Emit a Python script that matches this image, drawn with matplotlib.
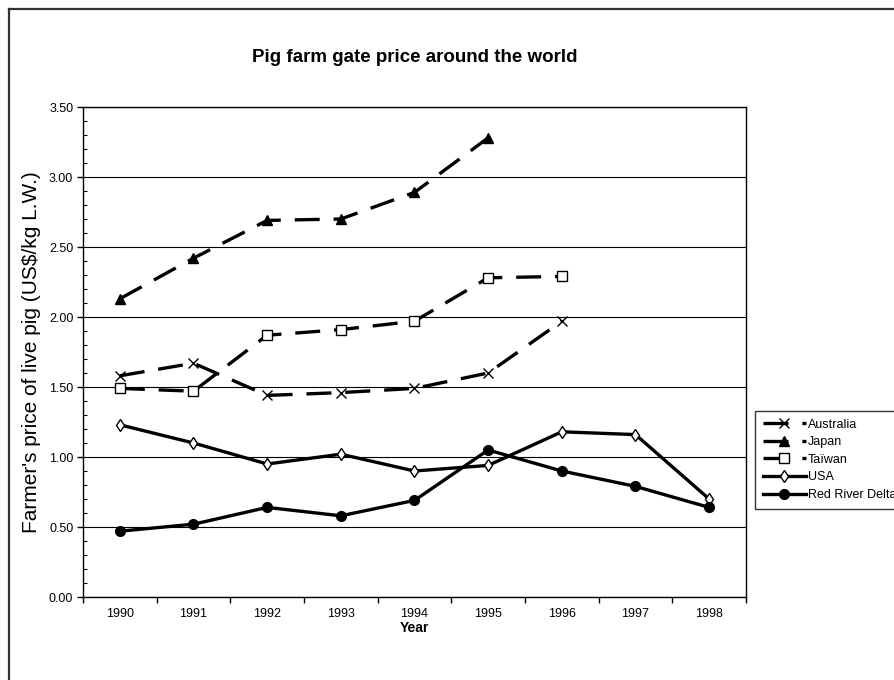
"""
Pig farm gate price, 1990-1998, for a few producing regions
"""

import numpy as np
import matplotlib

matplotlib.use("Agg")
import matplotlib.pyplot as plt
from matplotlib.lines import Line2D
from matplotlib.ticker import MultipleLocator, FixedLocator, NullFormatter

plt.rcParams["font.family"] = ["Liberation Sans", "DejaVu Sans"]
plt.rcParams["lines.scale_dashes"] = False

years = ["1990", "1991", "1992", "1993", "1994", "1995", "1996", "1997", "1998"]

australia = [1.58, 1.67, 1.44, 1.46, 1.49, 1.60, 1.97]
japan = [2.13, 2.42, 2.69, 2.70, 2.89, 3.28]
taiwan = [1.49, 1.47, 1.87, 1.91, 1.97, 2.28, 2.29]
usa = [1.23, 1.10, 0.95, 1.02, 0.90, 0.94, 1.18, 1.16, 0.70]
red_river_delta = [0.47, 0.52, 0.64, 0.58, 0.69, 1.05, 0.90, 0.79, 0.64]

series_names = ["Australia", "Japan", "Taïwan", "USA", "Red River Delta"]

W, H = 895, 680
fig = plt.figure(figsize=(W / 100, H / 100), dpi=100)

# plot area in pixels: left 83, right 746, top 107, bottom 597
ax = fig.add_axes([83 / W, (H - 597) / H, (746 - 83) / W, (597 - 107) / H])

dash = (18, 10)
lw = 2.4

ax.plot(np.arange(len(australia)), australia, color="black", lw=lw, dashes=dash,
        marker="x", ms=7, mew=1.0, label=series_names[0])
ax.plot(np.arange(len(japan)), japan, color="black", lw=lw, dashes=dash,
        marker="^", ms=7, mfc="black", mec="black", label=series_names[1])
ax.plot(np.arange(len(taiwan)), taiwan, color="black", lw=lw, dashes=dash,
        marker="s", ms=7, mfc="white", mec="black", mew=1.0, label=series_names[2])
ax.plot(np.arange(len(usa)), usa, color="black", lw=lw,
        marker="d", ms=6.5, mfc="white", mec="black", mew=1.0, label=series_names[3])
ax.plot(np.arange(len(red_river_delta)), red_river_delta, color="black", lw=lw,
        marker="o", ms=7, mfc="black", mec="black", label=series_names[4])

ax.set_xlim(-0.5, len(years) - 0.5)
ax.set_ylim(0, 3.5)

# y axis: labelled majors every 0.5, small inside minors every 0.1
ax.yaxis.set_minor_locator(MultipleLocator(0.1))
ax.set_yticks(np.arange(0, 3.51, 0.5))
ax.set_yticklabels(["{:.2f}".format(v) for v in np.arange(0, 3.51, 0.5)])
ax.tick_params(axis="y", which="major", direction="out", length=4, width=1,
               labelsize=9, pad=3)
ax.tick_params(axis="y", which="minor", direction="in", length=3, width=0.8)

# x axis: ticks between categories, labels centred on categories
ax.xaxis.set_major_locator(FixedLocator(np.arange(-0.5, len(years), 1.0)))
ax.xaxis.set_major_formatter(NullFormatter())
ax.xaxis.set_minor_locator(FixedLocator(np.arange(len(years))))
ax.set_xticklabels(years, minor=True)
ax.tick_params(axis="x", which="major", direction="out", length=4, width=1)
ax.tick_params(axis="x", which="minor", length=0, labelsize=9, pad=8)

ax.grid(axis="y", which="major", color="black", lw=0.8)
ax.set_axisbelow(True)
for s in ax.spines.values():
    s.set_color("black")
    s.set_linewidth(1.0)

ax.set_xlabel("Year", fontsize=10, fontweight="bold", labelpad=1)
ax.set_ylabel("Farmer's price of live pig (US$/kg L.W.)", fontsize=15,
              va="center")
ax.yaxis.set_label_coords((32 - 83) / (746 - 83), 0.5)

fig.text(414.5 / W, 1 - 57 / H, "Pig farm gate price around the world",
         ha="center", va="center", fontsize=13.5, fontweight="bold")

leg = fig.legend(loc="upper left", bbox_to_anchor=(755 / W, 1 - 411 / H),
                 fontsize=9, frameon=True, fancybox=False, borderaxespad=0,
                 handlelength=3.5, handletextpad=0.15, labelspacing=0.45,
                 borderpad=0.6)
leg.get_frame().set_edgecolor("black")
leg.get_frame().set_linewidth(1.0)

# outer chart border (top and left edges only)
fig.add_artist(Line2D([9 / W, 9 / W], [0, 1 - 9 / H], color="#333333", lw=1.6,
                      transform=fig.transFigure))
fig.add_artist(Line2D([9 / W, 1], [1 - 9 / H, 1 - 9 / H], color="#333333", lw=1.6,
                      transform=fig.transFigure))

fig.savefig("out.png", dpi=100)
